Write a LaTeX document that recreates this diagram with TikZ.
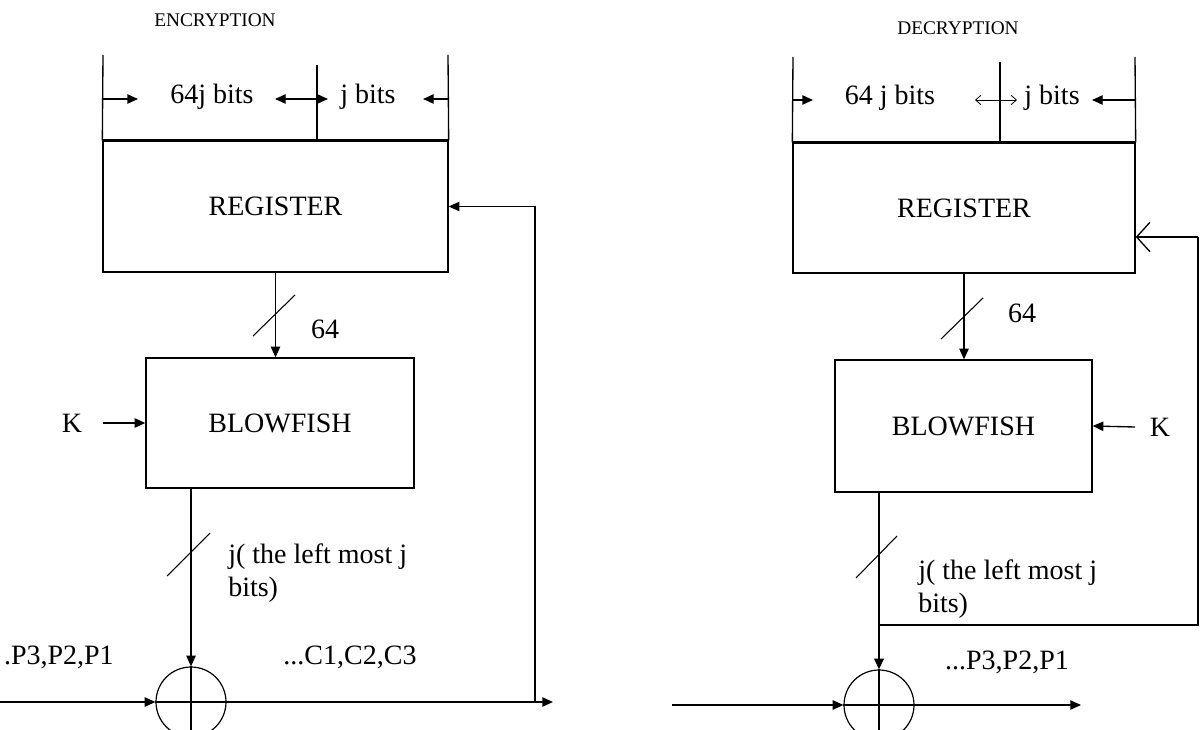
\documentclass[tikz,border=0pt]{standalone}
\usepackage{fontspec}
\setmainfont{Liberation Serif}
\usetikzlibrary{arrows.meta}
\begin{document}
\begin{tikzpicture}[x=0.75pt,y=-0.75pt,
  box/.style={draw,line width=1pt,inner sep=0pt,font=\fontsize{21}{25}\selectfont},
  lbl/.style={font=\fontsize{21}{25}\selectfont,inner sep=0pt},
  ttl/.style={font=\fontsize{14.5}{17}\selectfont,inner sep=0pt},
  xorc/.style={draw,circle,line width=0.9pt,inner sep=0pt,minimum size=52.5pt},
  wire/.style={line width=1pt},
  heavy/.style={line width=1.8pt},
  tipf/.style={-{Triangle[length=8pt,width=7pt]}},
  tipo/.style={-{Straight Barb[length=4pt,width=7pt]}},
  tipw/.style={-{Straight Barb[length=10pt,width=22pt]}},
  slash/.style={line width=0.8pt}]
\useasboundingbox (0,0) rectangle (1202,730);

% ================= ENCRYPTION =================
\node[ttl] (t1) at (215,20) {ENCRYPTION};
\node[box,minimum width=258.75pt,minimum height=98.25pt] (reg1) at (275.5,206.5) {REGISTER};
\draw[heavy] (reg1.north west) -- (reg1.north east);
\coordinate (r1l) at (103,55);
\coordinate (r1r) at (448,55);
\draw[wire] (reg1.north west) -- (r1l);
\draw[wire] (reg1.north east) -- (r1r);
\coordinate (d1t) at (317,65);
\coordinate (d1b) at (317,141);
\draw[heavy] (d1t) -- (d1b);
\coordinate (a1) at (103,99);
\coordinate (a1e) at (138,99);
\coordinate (a2) at (317,99);
\coordinate (a2e) at (275,99);
\coordinate (a3e) at (328,99);
\coordinate (a4) at (448,99);
\coordinate (a4e) at (423,99);
\draw[wire,tipf] (a1) -- (a1e);
\draw[wire,tipf] (a2) -- (a2e);
\draw[wire,tipf] (a2) -- (a3e);
\draw[wire,tipf] (a4) -- (a4e);
\node[lbl] (l64j) at (212,97) {64j bits};
\node[lbl] (lj1) at (368,97) {j bits};

\node[box,minimum width=201pt,minimum height=97.5pt] (blow1) at (280,423) {BLOWFISH};
\draw[wire,tipf] (reg1.south) -- (reg1.south |- blow1.north);
\coordinate (s1a) at (253,336);
\coordinate (s1b) at (295,295);
\draw[slash] (s1a) -- (s1b);
\node[lbl] (n64a) at (325,329) {64};

\node[lbl] (k1) at (72,423) {K};
\coordinate (k1s) at (103,423);
\draw[wire,tipf] (k1s) -- (blow1.west);

\node[xorc] (x1) at (191,702) {};
\draw[wire,tipf] (blow1.south -| x1.north) -- (x1.north);
\draw[wire] (x1.north) -- (x1.south);
\draw[wire] (x1.west) -- (x1.east);
\coordinate (s2a) at (167,576);
\coordinate (s2b) at (210,533);
\draw[slash] (s2a) -- (s2b);
\node[lbl,anchor=west] (jl1) at (228,557) {j( the left most j};
\node[lbl,anchor=west] (jb1) at (228,590) {bits)};

\coordinate (in1) at (0,702);
\coordinate (out1) at (553,702);
\coordinate (fb1) at (535,702);
\draw[wire,tipf] (in1) -- (x1.west);
\draw[wire,tipf] (x1.east) -- (out1);
\draw[wire,tipf] (fb1) |- (reg1.east);
\node[lbl,anchor=east] (p1) at (114,657) {.P3,P2,P1};
\node[lbl] (c1) at (350,657) {...C1,C2,C3};

% ================= DECRYPTION =================
\node[ttl] (t2) at (958,28) {DECRYPTION};
\node[box,minimum width=256.5pt,minimum height=97.5pt] (reg2) at (964,208) {REGISTER};
\draw[heavy] (reg2.north west) -- (reg2.north east);
\coordinate (r2l) at (793,57);
\coordinate (r2r) at (1135,57);
\draw[wire] (reg2.north west) -- (r2l);
\draw[wire] (reg2.north east) -- (r2r);
\coordinate (d2t) at (1000,62);
\coordinate (d2b) at (1000,143);
\draw[heavy] (d2t) -- (d2b);
\coordinate (b1) at (793,100);
\coordinate (b1e) at (813,100);
\coordinate (b2) at (1000,100);
\coordinate (b2e) at (975,100);
\coordinate (b3e) at (1017,100);
\coordinate (b4) at (1135,100);
\coordinate (b4e) at (1092,100);
\draw[wire,tipf] (b1) -- (b1e);
\draw[line width=0.6pt,tipo] (b2) -- (b2e);
\draw[line width=0.6pt,tipo] (b2) -- (b3e);
\draw[wire,tipf] (b4) -- (b4e);
\node[lbl] (l64j2) at (890,98) {64 j bits};
\node[lbl] (lj2) at (1052,98) {j bits};

\node[box,minimum width=192.75pt,minimum height=99pt] (blow2) at (963.5,426) {BLOWFISH};
\draw[wire,tipf] (reg2.south) -- (reg2.south |- blow2.north);
\coordinate (s3a) at (941,339);
\coordinate (s3b) at (983,298);
\draw[slash] (s3a) -- (s3b);
\node[lbl] (n64b) at (1022,313) {64};

\node[lbl] (k2) at (1160,427) {K};
\coordinate (k2s) at (1135,427);
\draw[wire,tipf] (k2s) -- (blow2.east);

\node[xorc] (x2) at (879,705) {};
\draw[line width=1.6pt,tipf] (blow2.south -| x2.north) -- (x2.north);
\draw[line width=1.6pt] (x2.north) -- (x2.south);
\draw[wire] (x2.west) -- (x2.east);
\coordinate (s4a) at (856,578);
\coordinate (s4b) at (897,536);
\draw[slash] (s4a) -- (s4b);
\node[lbl,anchor=west] (jl2) at (918,573) {j( the left most j};
\node[lbl,anchor=west] (jb2) at (918,606) {bits)};

\coordinate (br2) at (879,625);
\coordinate (fbr) at (1198,625);
\coordinate (fbt) at (1198,237);
\draw[wire] (br2) -- (fbr) -- (fbt);
\draw[wire,tipw] (fbt) -- (reg2.east |- fbt);

\coordinate (in2) at (672,705);
\coordinate (out2) at (1081,705);
\draw[wire,tipf] (in2) -- (x2.west);
\draw[wire,tipf] (x2.east) -- (out2);
\node[lbl] (p2) at (1007,662) {...P3,P2,P1};
\end{tikzpicture}
\end{document}
